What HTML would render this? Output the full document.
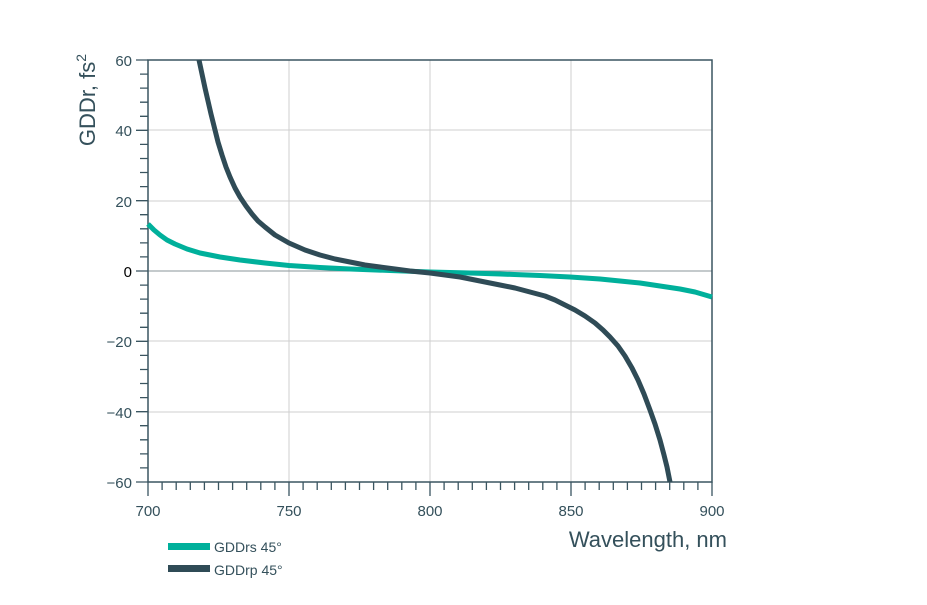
<!DOCTYPE html>
<html><head><meta charset="utf-8"><style>
body{margin:0;background:#fff}
svg text{font-family:"Liberation Sans",sans-serif;fill:#34505b}
</style></head><body>
<svg width="927" height="600" viewBox="0 0 927 600" xmlns="http://www.w3.org/2000/svg">
<g stroke="#cfcfcf" stroke-width="1">
<line x1="289" y1="60" x2="289" y2="482"/><line x1="430" y1="60" x2="430" y2="482"/><line x1="571" y1="60" x2="571" y2="482"/>
<line x1="148" y1="130" x2="712" y2="130"/><line x1="148" y1="201" x2="712" y2="201"/><line x1="148" y1="341" x2="712" y2="341"/><line x1="148" y1="412" x2="712" y2="412"/>
</g>
<line x1="148" y1="271" x2="712" y2="271" stroke="#8a9499" stroke-width="1"/>
<rect x="148" y="60" width="564" height="422" stroke="#3a5560" stroke-width="1.5" fill="none"/>
<path stroke="#3a5560" stroke-width="1.3" fill="none" d="
M136 60h12 M140 74.1h8 M140 88.1h8 M140 102.2h8 M140 116.3h8 M136 130.3h12 M140 144.4h8 M140 158.5h8 M140 172.5h8 M140 186.6h8 M136 200.7h12 M140 214.7h8 M140 228.8h8 M140 242.9h8 M140 256.9h8 M136 271h12
M140 285.1h8 M140 299.1h8 M140 313.2h8 M140 327.3h8 M136 341.3h12 M140 355.4h8 M140 369.5h8 M140 383.5h8 M140 397.6h8 M136 411.7h12 M140 425.7h8 M140 439.8h8 M140 453.9h8 M140 467.9h8 M136 482h12
M148 482v14 M162.1 482v8 M176.2 482v8 M190.3 482v8 M204.4 482v8 M218.5 482v8 M232.6 482v8 M246.7 482v8 M260.8 482v8 M274.9 482v8
M289 482v14 M303.1 482v8 M317.2 482v8 M331.3 482v8 M345.4 482v8 M359.5 482v8 M373.6 482v8 M387.7 482v8 M401.8 482v8 M415.9 482v8
M430 482v14 M444.1 482v8 M458.2 482v8 M472.3 482v8 M486.4 482v8 M500.5 482v8 M514.6 482v8 M528.7 482v8 M542.8 482v8 M556.9 482v8
M571 482v14 M585.1 482v8 M599.2 482v8 M613.3 482v8 M627.4 482v8 M641.5 482v8 M655.6 482v8 M669.7 482v8 M683.8 482v8 M697.9 482v8 M712 482v14"/>
<polyline fill="none" stroke="#00b09b" stroke-width="5" stroke-linejoin="round" points="148,224 154,230 160,235 167,240 175,244 187,249 200,253 220,257 240,260 265,263 289,265.5 320,267.5 350,269 390,270.5 430,272 470,273 500,274 540,275.5 570,277 600,279 620,281 640,283 660,286 680,289 695,292 712,297"/>
<polyline fill="none" stroke="#2f4b56" stroke-width="5" stroke-linejoin="round" points="199,60 202,74 205,88 208,101 211,114 215,130 218,142 222,155 226,167 230,177 235,188 240,197 246,206 252,214 258,221 265,227 275,235 289,243 305,250 320,255 335,259 350,262 365,265 380,267 395,269 410,271 430,273 445,275 460,277 480,281 500,285 515,288 530,292 545,296 555,300 565,305 575,310 585,316 595,323 603,330 610,337 618,346 625,356 632,368 638,380 644,394 650,410 655,424 660,440 664,455 667,467 670,482"/>
<g font-size="15" text-anchor="end">
<text x="132" y="66">60</text><text x="132" y="136">40</text><text x="132" y="207">20</text><text x="132" y="277" style="fill:#000">0</text>
<text x="132" y="347">−20</text><text x="132" y="418">−40</text><text x="132" y="488">−60</text>
</g>
<g font-size="15" text-anchor="middle">
<text x="148" y="516">700</text><text x="289" y="516">750</text><text x="430" y="516">800</text><text x="571" y="516">850</text><text x="712" y="516">900</text>
</g>
<text x="727" y="547" font-size="22" text-anchor="end">Wavelength, nm</text>
<text transform="translate(95,100) rotate(-90)" font-size="22" text-anchor="middle">GDDr, fs<tspan font-size="14" dy="-9">2</tspan></text>
<rect x="168" y="543" width="42" height="7" fill="#00b09b"/>
<rect x="168" y="565" width="42" height="7" fill="#2f4b56"/>
<text x="214" y="552" font-size="14">GDDrs 45°</text>
<text x="214" y="575" font-size="14">GDDrp 45°</text>
</svg>
</body></html>
